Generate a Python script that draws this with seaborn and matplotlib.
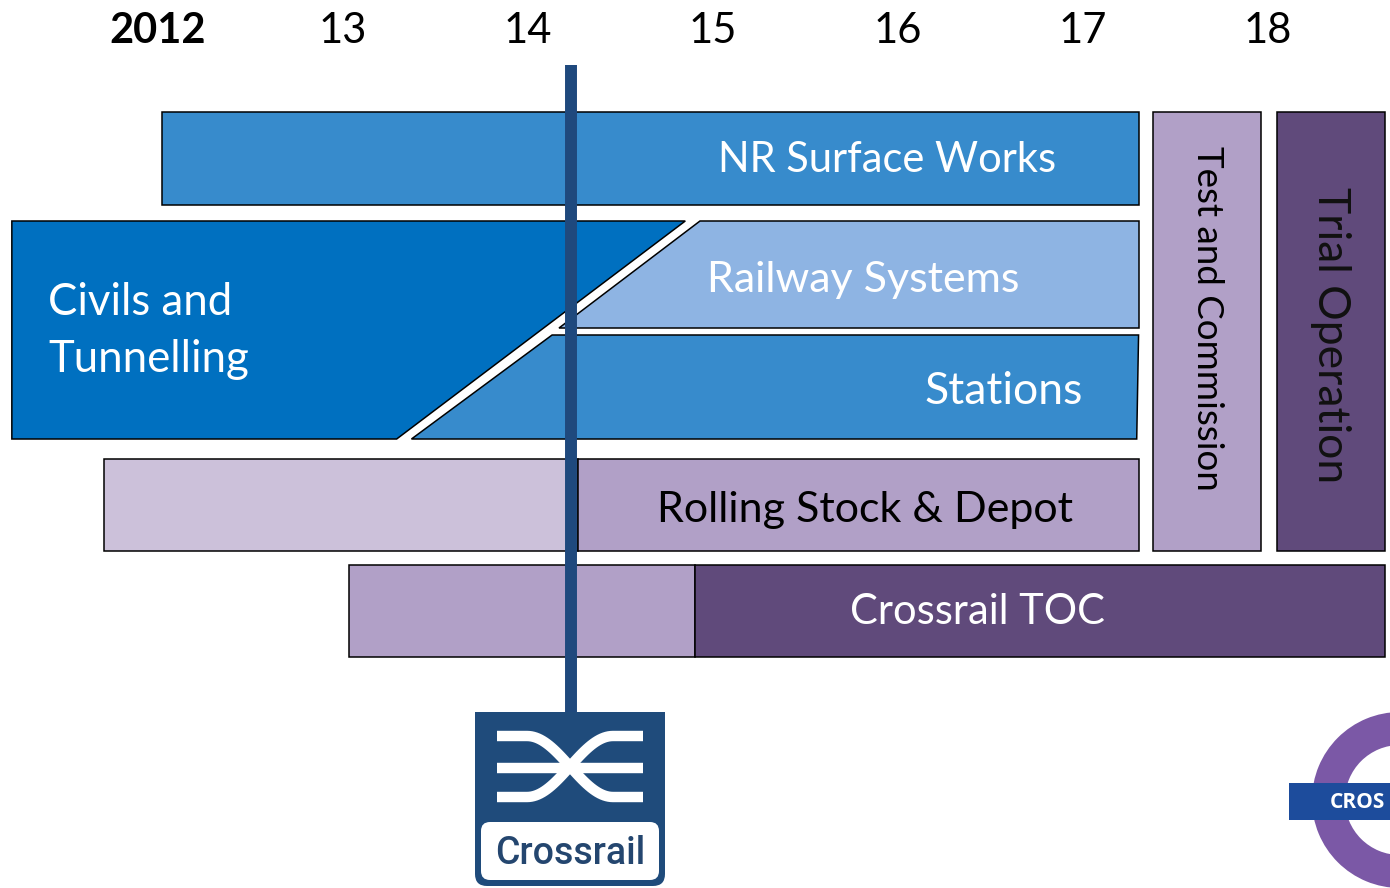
import numpy as np
import matplotlib
matplotlib.use("Agg")
import matplotlib.pyplot as plt
from matplotlib.patches import Polygon, Rectangle, FancyBboxPatch, Wedge
import seaborn as sns

# timeline axis
YEARS = [2012, 2013, 2014, 2015, 2016, 2017, 2018]
YEAR_LABELS = ["2012", "13", "14", "15", "16", "17", "18"]
NOW = 2014.23  # progress marker

# straight workstreams (lane, start, end)
BAR_NAMES = ["NR Surface Works", "Rolling Stock (early)", "Rolling Stock & Depot",
             "Crossrail TOC (early)", "Crossrail TOC"]
BAR_LANE = [0, 3, 3, 4, 4]
BAR_START = [2012.02, 2011.71, 2014.27, 2013.03, 2014.90]
BAR_END = [2017.30, 2014.27, 2017.30, 2014.90, 2018.63]
BAR_COLOR = ["#378BCC", "#CCC1DA", "#B1A0C7", "#B1A0C7", "#604A7B"]

# slanted workstreams (start at top edge, start at bottom edge, end)
SLANT_NAMES = ["Civils and Tunnelling", "Railway Systems", "Stations"]
SLANT_LANES = [(1, 2), (1, 1), (2, 2)]
SLANT_START_TOP = [2011.21, 2014.93, 2014.13]
SLANT_START_BOTTOM = [2011.21, 2014.17, 2013.37]
SLANT_END_TOP = [2014.85, 2017.30, 2017.30]
SLANT_END_BOTTOM = [2013.29, 2017.30, 2017.29]
SLANT_COLOR = ["#0070C0", "#8EB4E3", "#378BCC"]

# full height phases
PHASE_NAMES = ["Test and Commission", "Trial Operation"]
PHASE_START = [2017.38, 2018.05]
PHASE_END = [2017.96, 2018.63]
PHASE_COLOR = ["#B1A0C7", "#604A7B"]

# lane layout (vertical, px)
LANE_TOP = [112, 221, 335, 459, 565]
LANE_BOTTOM = [205, 328, 439, 551, 657]

sns.set_theme(style="white")
plt.rcParams["font.family"] = ["Lato", "DejaVu Sans"]

fig = plt.figure(figsize=(13.9, 8.88), dpi=100)
ax = fig.add_axes([0, 0, 1, 1])
ax.set_xlim(2011.146, 2018.659)
ax.set_ylim(888, 0)
ax.axis("off")

edge = dict(edgecolor="black", linewidth=1.1)

for lane, s, e, c in zip(BAR_LANE, BAR_START, BAR_END, BAR_COLOR):
    top, bot = LANE_TOP[lane], LANE_BOTTOM[lane]
    ax.barh((top + bot) / 2, e - s, left=s, height=bot - top, color=c, **edge)

for (l0, l1), st, sb, et, eb, c in zip(SLANT_LANES, SLANT_START_TOP, SLANT_START_BOTTOM,
                                      SLANT_END_TOP, SLANT_END_BOTTOM, SLANT_COLOR):
    top, bot = LANE_TOP[l0], LANE_BOTTOM[l1]
    ax.add_patch(Polygon([(st, top), (et, top), (eb, bot), (sb, bot)],
                         closed=True, facecolor=c, **edge))

for s, e, c in zip(PHASE_START, PHASE_END, PHASE_COLOR):
    ax.barh((LANE_TOP[0] + LANE_BOTTOM[3]) / 2, e - s, left=s,
            height=LANE_BOTTOM[3] - LANE_TOP[0], color=c, **edge)

# year header
for yr, lab in zip(YEARS, YEAR_LABELS):
    ax.text(yr, 43, lab, ha="center", va="baseline", fontsize=30,
            fontweight="bold" if lab == "2012" else "normal", color="black")

# labels
ax.text(2015.94, 172, "NR Surface Works", ha="center", va="baseline", fontsize=30, color="white")
ax.text(2015.81, 292, "Railway Systems", ha="center", va="baseline", fontsize=31, color="white")
ax.text(2016.57, 404, "Stations", ha="center", va="baseline", fontsize=32, color="white")
ax.text(2011.405, 315, "Civils and", ha="left", va="baseline", fontsize=31.5, color="white")
ax.text(2011.405, 372, "Tunnelling", ha="left", va="baseline", fontsize=31.5, color="white")
ax.text(2015.82, 522, "Rolling Stock & Depot", ha="center", va="baseline", fontsize=31, color="black")
ax.text(2016.43, 624, "Crossrail TOC", ha="center", va="baseline", fontsize=30, color="white")
ax.text((PHASE_START[0] + PHASE_END[0]) / 2, 318, PHASE_NAMES[0], rotation=270,
        ha="center", va="center", fontsize=26.5, color="black")
ax.text((PHASE_START[1] + PHASE_END[1]) / 2, 335, PHASE_NAMES[1], rotation=270,
        ha="center", va="center", fontsize=32, color="#111111")

# progress marker
ax.vlines(NOW, 65, 712, color="#1F497D", linewidth=8.6, zorder=5)

# decorations: logos in pixel space
deco = fig.add_axes([0, 0, 1, 1], zorder=10)
deco.set_xlim(0, 1390)
deco.set_ylim(888, 0)
deco.axis("off")
deco.patch.set_alpha(0)

navy = "#1F4B7B"
deco.add_patch(FancyBboxPatch((475, 712), 190, 174, boxstyle="round,pad=0,rounding_size=12",
                              facecolor=navy, edgecolor="none"))
deco.add_patch(Rectangle((475, 712), 190, 40, facecolor=navy, edgecolor="none"))
deco.add_patch(FancyBboxPatch((481, 822), 178, 58, boxstyle="round,pad=0,rounding_size=9",
                              facecolor="white", edgecolor="none"))
deco.text(570, 853, "Crossrail", ha="center", va="center", fontsize=27,
          family=["Roboto", "DejaVu Sans"], fontweight="medium", color="#24466F")
lw = 7.5
deco.plot([497, 643], [768, 768], color="white", lw=lw, solid_capstyle="butt")
xs = np.linspace(527, 613, 40)
t = (xs - 527) / 86
ys = 736 + 61 * (1 - np.cos(np.pi * t)) / 2
deco.plot(np.r_[497, xs, 643], np.r_[736, ys, 797], color="white", lw=lw, solid_capstyle="butt")
deco.plot(np.r_[497, xs, 643], np.r_[797, 1533 - ys, 736], color="white", lw=lw, solid_capstyle="butt")

deco.add_patch(Wedge((1400, 800), 88, 0, 360, width=33, facecolor="#7B58A6", edgecolor="none"))
deco.add_patch(Rectangle((1289, 783), 120, 37, facecolor="#1D4C9C", edgecolor="none"))
deco.text(1330, 802, "CROS", ha="left", va="center", fontsize=15, fontweight="bold",
          color="white", family=["Open Sans", "DejaVu Sans"])

fig.savefig("out.png", dpi=100)
